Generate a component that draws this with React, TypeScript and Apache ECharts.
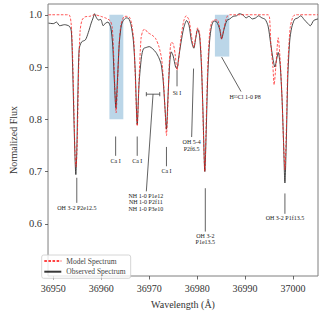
import React, { useEffect, useRef } from "react";
import * as echarts from "echarts";

const FONT = "'Liberation Serif', 'DejaVu Serif', serif";

const observedWl = [
  36949.0, 36950.0, 36950.67, 36951.34, 36952.34, 36953.35, 36953.75, 36954.0, 36954.3, 36954.55, 36954.7, 36954.9,
  36955.15, 36955.4, 36955.9, 36956.7, 36957.3, 36957.9, 36958.3, 36958.6, 36958.9, 36959.4, 36959.9, 36960.4,
  36960.9, 36961.4, 36962.0, 36962.4, 36962.7, 36963.05, 36963.4, 36963.8, 36964.2, 36964.6, 36965.2, 36965.7,
  36966.2, 36966.7, 36967.1, 36967.5, 36967.9, 36968.4, 36968.8, 36969.4, 36970.0, 36970.7, 36971.4, 36972.0,
  36972.5, 36972.9, 36973.3, 36973.6, 36973.9, 36974.3, 36974.6, 36975.0, 36975.5, 36975.8, 36976.1, 36976.6,
  36977.2, 36977.8, 36978.3, 36978.8, 36979.3, 36979.7, 36980.1, 36980.5, 36980.9, 36981.2, 36981.6, 36981.9,
  36982.2, 36982.6, 36983.0, 36983.5, 36984.1, 36984.7, 36985.1, 36985.6, 36986.2, 36986.8, 36987.5, 36988.2,
  36988.8, 36989.5, 36990.2, 36990.8, 36991.5, 36992.2, 36992.8, 36993.5, 36994.2, 36994.8, 36995.3, 36995.8,
  36996.2, 36996.6, 36996.9, 36997.3, 36997.7, 36998.0, 36998.3, 36998.6, 36998.9, 36999.3, 36999.7, 37000.3,
  37001.0, 37001.6, 37002.3, 37003.0, 37003.6, 37004.3, 37005.2,
];
const observedFlux = [
  0.984, 0.983, 0.986, 0.979, 0.981, 0.978, 0.969, 0.91, 0.8, 0.72, 0.694, 0.74,
  0.86, 0.935, 0.948, 0.952, 0.966, 0.984, 0.994, 1.002, 0.996, 0.99, 0.991, 0.979,
  0.984, 0.986, 0.975, 0.94, 0.88, 0.822, 0.88, 0.95, 0.98, 0.989, 0.994, 0.993,
  0.981, 0.95, 0.89, 0.79, 0.87, 0.92, 0.935, 0.9375, 0.939, 0.935, 0.928, 0.918,
  0.905, 0.875, 0.82, 0.781, 0.84, 0.91, 0.929, 0.921, 0.9, 0.897, 0.915, 0.945,
  0.975, 0.989, 0.98, 0.95, 0.936, 0.955, 0.972, 0.96, 0.9, 0.82, 0.7, 0.78,
  0.88, 0.95, 0.978, 0.988, 0.986, 0.972, 0.954, 0.972, 0.989, 0.992, 0.997, 0.998,
  1.002, 1.0, 0.994, 0.997, 0.992, 0.994, 0.998, 0.994, 0.991, 0.978, 0.947, 0.916,
  0.9, 0.916, 0.928, 0.905, 0.84, 0.76, 0.678, 0.76, 0.88, 0.95, 0.975, 0.991,
  0.994, 0.998, 0.991, 0.984, 0.979, 0.989, 0.992,
];

const modelWl = [
  36949.0, 36953.2, 36953.7, 36954.0, 36954.3, 36954.55, 36954.75, 36955.0, 36955.3, 36955.6, 36956.0, 36956.6,
  36957.6, 36958.6, 36959.9, 36961.1, 36961.9, 36962.3, 36962.6, 36962.8, 36963.1, 36963.4, 36963.7, 36964.1,
  36964.7, 36965.3, 36965.9, 36966.3, 36966.8, 36967.1, 36967.5, 36967.9, 36968.3, 36968.7, 36969.1, 36969.7,
  36970.6, 36971.3, 36972.0, 36972.6, 36973.0, 36973.3, 36973.6, 36973.9, 36974.2, 36974.6, 36975.0, 36975.4,
  36975.8, 36976.1, 36976.6, 36977.2, 36977.7, 36978.3, 36978.8, 36979.3, 36979.7, 36980.1, 36980.5, 36980.9,
  36981.2, 36981.6, 36981.9, 36982.2, 36982.6, 36983.0, 36983.5, 36984.2, 36984.8, 36985.1, 36985.6, 36986.2,
  36986.8, 36994.8, 36995.1, 36995.4, 36995.8, 36996.05, 36996.4, 36996.9, 36997.3, 36997.7, 36998.0, 36998.3,
  36998.6, 36998.9, 36999.4, 37000.0, 37000.6, 37005.2,
];
const modelFlux = [
  1.0, 1.0, 0.985, 0.93, 0.82, 0.73, 0.709, 0.76, 0.9, 0.97, 0.99, 0.996,
  0.997, 1.0, 0.997, 0.993, 0.988, 0.975, 0.92, 0.87, 0.8125, 0.87, 0.94, 0.98,
  0.996, 0.997, 0.995, 0.984, 0.95, 0.88, 0.787, 0.88, 0.955, 0.97, 0.972, 0.966,
  0.961, 0.955, 0.94, 0.915, 0.87, 0.82, 0.769, 0.83, 0.91, 0.947, 0.945, 0.925,
  0.894, 0.91, 0.955, 0.988, 0.998, 0.99, 0.96, 0.9375, 0.957, 0.975, 0.965, 0.91,
  0.81, 0.7, 0.8, 0.9, 0.965, 0.985, 0.99, 0.99, 0.97, 0.953, 0.975, 0.996,
  1.0, 1.0, 0.994, 0.94, 0.9, 0.866, 0.9, 0.956, 0.915, 0.84, 0.76, 0.703,
  0.78, 0.9, 0.975, 0.997, 1.0, 1.0,
];

const xTicks = [36950, 36960, 36970, 36980, 36990, 37000];
const yTicks = [0.6, 0.7, 0.8, 0.9, 1.0];

// highlighted regions [x1, y1, x2, y2]
const regions = [
  [36961.7, 1.0, 36964.6, 0.8],
  [36983.7, 1.0, 36986.7, 0.92],
];

// annotation segments [x1, y1, x2, y2]
const segments = [
  [36954.9, 0.688, 36954.9, 0.64],
  [36963.0, 0.767, 36963.0, 0.73],
  [36967.5, 0.767, 36967.5, 0.73],
  [36973.6, 0.747, 36973.6, 0.71],
  [36969.4, 0.848, 36972.2, 0.848],
  [36969.4, 0.852, 36969.4, 0.844],
  [36972.2, 0.852, 36972.2, 0.844],
  [36970.8, 0.848, 36969.4, 0.662],
  [36975.8, 0.894, 36975.8, 0.863],
  [36979.25, 0.897, 36978.85, 0.766],
  [36981.7, 0.668, 36981.7, 0.585],
  [36985.1, 0.919, 36989.15, 0.853],
  [36998.3, 0.658, 36998.3, 0.619],
];

// annotation labels
const labelPos = [
  [36954.9, 0.631],
  [36963.0, 0.7204],
  [36967.5, 0.7204],
  [36973.6, 0.7017],
  [36969.3, 0.641],
  [36975.8, 0.851],
  [36978.85, 0.75],
  [36981.7, 0.571],
  [36990.0, 0.842],
  [36998.3, 0.611],
];
const labelText = [
  "OH 3-2 P2e12.5",
  "Ca I",
  "Ca I",
  "Ca I",
  "NH 1-0 P1e12\nNH 1-0 P2f11\nNH 1-0 P3e10",
  "Si I",
  "OH 5-4\nP2f6.5",
  "OH 3-2\nP1e13.5",
  "H³⁵Cl 1-0 P8",
  "OH 3-2 P1f13.5",
];

export default function App() {
  const ref = useRef<HTMLDivElement>(null);
  useEffect(() => {
    if (!ref.current) return;
    const chart = echarts.init(ref.current, null, { renderer: "svg" });
    const obs = observedWl.map((w, i) => [w, observedFlux[i]]);
    const mod = modelWl.map((w, i) => [w, modelFlux[i]]);
    chart.setOption({
      animation: false,
      grid: {
        left: 38,
        right: 7,
        top: 4,
        bottom: 32,
        show: true,
        borderColor: "#7f7f7f",
        borderWidth: 1,
        backgroundColor: "transparent",
      },
      legend: {
        data: ["Model Spectrum", "Observed Spectrum"],
        orient: "vertical",
        left: 41.7,
        top: 255,
        padding: [2, 5, 2.6, 1.6],
        itemGap: 2.7,
        itemWidth: 17,
        itemHeight: 8,
        borderColor: "#cccccc",
        borderWidth: 0.8,
        borderRadius: 2,
        backgroundColor: "rgba(255,255,255,0.8)",
        itemStyle: { opacity: 0 },
        textStyle: { fontFamily: FONT, fontSize: 7.5, color: "#444" },
      },
      xAxis: {
        type: "value",
        min: 36948.9,
        max: 37005.2,
        name: "Wavelength (Å)",
        nameLocation: "middle",
        nameGap: 23,
        nameTextStyle: { fontFamily: FONT, fontSize: 10, color: "#333" },
        axisLine: { show: false },
        splitLine: { show: false },
        axisTick: {
          show: true,
          inside: false,
          length: 3.5,
          lineStyle: { color: "#444", width: 0.8 },
          customValues: xTicks,
        },
        axisLabel: {
          fontFamily: FONT,
          fontSize: 10,
          color: "#333",
          margin: 7,
          customValues: xTicks,
          formatter: (v: number) => String(v),
        },
      },
      yAxis: {
        type: "value",
        min: 0.5,
        max: 1.0206,
        name: "Normalized Flux",
        nameLocation: "middle",
        nameGap: 28,
        nameTextStyle: { fontFamily: FONT, fontSize: 10, color: "#333" },
        axisLine: { show: false },
        splitLine: { show: false },
        axisTick: {
          show: true,
          inside: false,
          length: 3,
          lineStyle: { color: "#444", width: 0.8 },
          customValues: yTicks,
        },
        axisLabel: {
          fontFamily: FONT,
          fontSize: 10.5,
          color: "#333",
          margin: 6,
          customValues: yTicks,
          formatter: (v: number) => v.toFixed(1),
        },
      },
      series: [
        {
          type: "custom",
          name: "regions",
          z: 1,
          silent: true,
          encode: { x: [0, 2], y: [1, 3] },
          data: regions,
          renderItem: (params: any, api: any) => {
            const p1 = api.coord([api.value(0), api.value(1)]);
            const p2 = api.coord([api.value(2), api.value(3)]);
            return {
              type: "rect",
              shape: { x: p1[0], y: p1[1], width: p2[0] - p1[0], height: p2[1] - p1[1] },
              style: { fill: "rgba(31,119,180,0.3)" },
            };
          },
        },
        {
          type: "line",
          name: "Observed Spectrum",
          z: 3,
          data: obs,
          showSymbol: false,
          symbol: "none",
          smooth: 0.25,
          color: "#222",
          lineStyle: { color: "rgba(20,20,20,0.85)", width: 0.9 },
        },
        {
          type: "line",
          name: "Model Spectrum",
          z: 4,
          data: mod,
          showSymbol: false,
          symbol: "none",
          smooth: 0.25,
          color: "#ff2020",
          lineStyle: { color: "rgba(255,20,20,0.8)", width: 0.9, type: [2.6, 1.5] },
        },
        {
          type: "custom",
          name: "segments",
          z: 5,
          silent: true,
          encode: { x: [0, 2], y: [1, 3] },
          data: segments,
          renderItem: (params: any, api: any) => {
            const p1 = api.coord([api.value(0), api.value(1)]);
            const p2 = api.coord([api.value(2), api.value(3)]);
            return {
              type: "line",
              shape: { x1: p1[0], y1: p1[1], x2: p2[0], y2: p2[1] },
              style: { stroke: "#3a3a3a", lineWidth: 0.8 },
            };
          },
        },
        {
          type: "custom",
          name: "labels",
          z: 6,
          silent: true,
          encode: { x: 0, y: 1 },
          data: labelPos,
          renderItem: (params: any, api: any) => {
            const p = api.coord([api.value(0), api.value(1)]);
            return {
              type: "text",
              x: p[0],
              y: p[1],
              style: {
                text: labelText[params.dataIndex],
                fontFamily: FONT,
                fontSize: 6,
                lineHeight: 6.6,
                fill: "#222",
                align: "center",
                verticalAlign: "middle",
              },
            };
          },
        },
      ],
    });
    return () => chart.dispose();
  }, []);
  return (
    <div
      ref={ref}
      style={{ position: "absolute", left: 0, top: 0, width: 325, height: 314, background: "#fff" }}
    />
  );
}
